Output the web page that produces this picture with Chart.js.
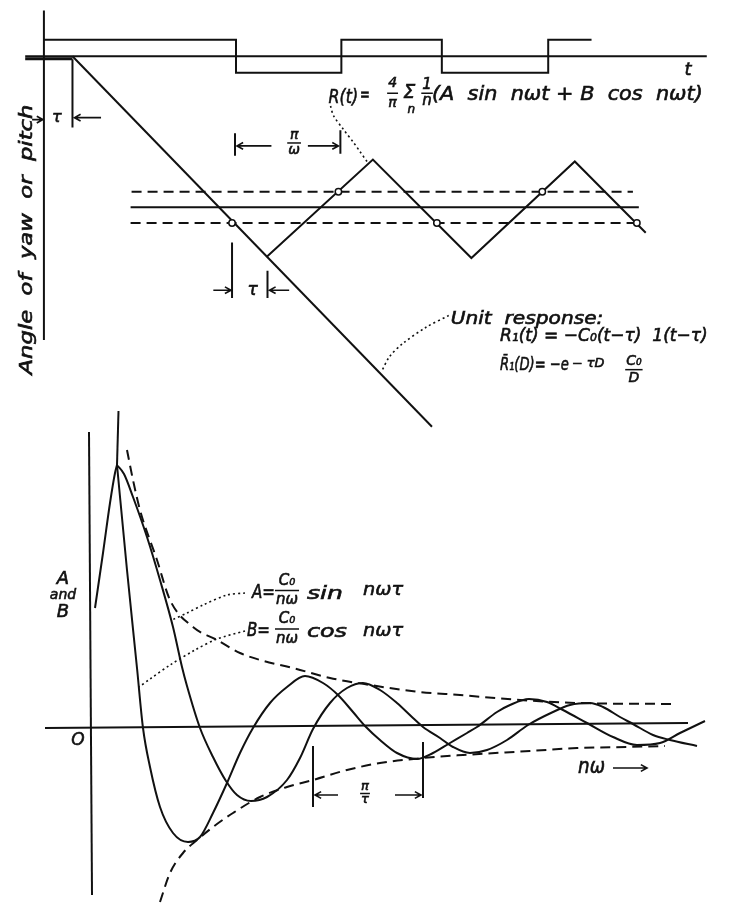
<!DOCTYPE html>
<html>
<head>
<meta charset="utf-8">
<script src="https://cdn.jsdelivr.net/npm/chart.js@4.4.1/dist/chart.umd.min.js"></script>
<style>
  html, body { margin: 0; padding: 0; background: #fff; }
  #wrap { position: relative; width: 731px; height: 903px; }
  canvas { position: absolute; left: 0; }
  #top { top: 0; }
  #bottom { top: 395px; }
</style>
</head>
<body>
<div id="wrap">
  <canvas id="top"></canvas>
  <canvas id="bottom"></canvas>
</div>
<script>
// ---- upper figure: time t vs angle (units) ----
const tAxis = [[-1.9, 0], [67.3, 0]];
const angleAxis = [[0, 4.7], [0, -29.1]];
const inputSquare = [[0, 1.7], [19.5, 1.7], [19.5, -1.7], [30.2, -1.7], [30.2, 1.7], [40.4, 1.7], [40.4, -1.7], [51.2, -1.7], [51.2, 1.7], [55.6, 1.7]];
const deadTime = [[-1.9, -0.25], [2.9, -0.25]];
const unitRamp = [[2.9, 0], [39.4, -38.0]];
const bandUpper = [[8.9, -13.9], [59.8, -13.9]];
const bandMid = [[8.8, -15.5], [60.4, -15.5]];
const bandLower = [[8.8, -17.1], [60.2, -17.1]];
const response = [[22.6, -20.6], [33.4, -10.6], [43.4, -20.7], [53.9, -10.8], [61.1, -18.1]];
const switchPts = [[19.1, -17.1], [29.9, -13.9], [39.9, -17.1], [50.6, -13.9], [60.2, -17.1]];
const tauTick = [[2.9, -0.3], [2.9, -7.3]];
const halfPeriodL = [[19.4, -7.9], [19.4, -10.2]];
const halfPeriodR = [[30.1, -7.6], [30.1, -10.0]];
const tau2L = [[19.1, -19.1], [19.1, -24.8]];
const tau2R = [[22.7, -22.0], [22.7, -24.8]];
const leaderR = [[29.1, -5.1], [29.4, -6.1], [30.4, -7.5], [31.4, -8.8], [32.1, -9.8], [32.8, -10.8]];
const leaderUnit = [[41.1, -26.6], [38.8, -27.8], [36.4, -29.5], [35.1, -30.8], [34.3, -32.3]];

// ---- lower figure: n*omega vs A and B ----
const nwAxis = [[-4.5, 0], [59.8, 0.5]];
const abAxis = [[-0.1, 29.6], [0.2, -16.7]];
const curveBTop = [[2.85, 31.7], [2.7, 26.3]];
const curveB = [[2.7, 26.3], [3.7, 15.8], [4.7, 6.0], [5.3, 0], [6.0, -3.9], [7.0, -7.9], [8.3, -10.5], [9.8, -11.4], [11.0, -10.9], [12.3, -8.5], [13.7, -5.5], [15.0, -2.5], [16.3, 0], [18.0, 2.5], [19.7, 4.1], [21.5, 5.2], [23.3, 4.5], [24.8, 3.3], [26.3, 1.6], [27.6, 0.1], [29.0, -1.2], [30.7, -2.5], [32.7, -3.1], [34.3, -2.5], [36.0, -1.5], [37.7, -0.5], [38.7, 0.1], [40.7, 1.6], [42.0, 2.3], [43.9, 2.9], [45.7, 2.6], [47.3, 1.8], [49.7, 0.5], [52.3, -0.9], [54.7, -1.7], [57.0, -1.5], [59.0, -0.5], [61.5, 0.7]];
const curveARise = [[0.5, 12.0], [1.3, 17.5], [2.0, 22.5], [2.5, 25.5], [2.7, 26.3]];
const curveA = [[2.7, 26.3], [3.4, 25.4], [4.3, 23.1], [5.7, 19.1], [7.0, 14.8], [8.3, 10.1], [9.2, 6.1], [9.7, 4.2], [11.0, 0], [12.3, -2.9], [13.6, -5.3], [14.7, -6.7], [16.1, -7.3], [17.7, -6.9], [19.7, -5.2], [21.0, -3.0], [22.3, -0.1], [24.0, 2.5], [25.7, 4.0], [27.3, 4.5], [29.0, 3.8], [30.7, 2.5], [32.3, 1.0], [33.3, 0.1], [35.0, -1.0], [36.3, -1.9], [38.0, -2.5], [39.7, -2.2], [41.7, -1.2], [43.8, 0.3], [46.3, 1.6], [48.0, 2.3], [50.0, 2.5], [51.3, 2.1], [53.0, 1.1], [54.3, 0.4], [56.3, -0.7], [58.0, -1.2], [60.7, -1.8]];
const envUpper = [[3.7, 27.8], [4.3, 24.8], [5.0, 21.8], [6.7, 16.8], [8.0, 12.8], [10.3, 10.1], [12.7, 8.8], [15.0, 7.5], [17.0, 6.8], [20.3, 6.0], [24.0, 5.0], [28.0, 4.3], [33.0, 3.6], [37.0, 3.3], [43.0, 2.8], [48.7, 2.5], [58.7, 2.4]];
const envLower = [[7.0, -17.4], [8.0, -14.5], [9.3, -12.5], [10.7, -11.2], [12.3, -9.9], [14.3, -8.5], [17.0, -6.9], [19.7, -5.9], [22.3, -5.2], [25.7, -4.2], [29.0, -3.5], [33.3, -3.0], [37.3, -2.7], [44.0, -2.3], [48.7, -2.0], [53.7, -1.9], [57.5, -1.8]];
const piTauL = [[22.3, -1.8], [22.3, -7.9]];
const piTauR = [[33.3, -1.4], [33.3, -7.0]];
const leaderA = [[15.5, 13.5], [13.7, 13.3], [11.3, 12.3], [9.7, 11.5], [8.2, 10.8]];
const leaderB = [[15.5, 9.7], [12.7, 8.9], [10.5, 7.8], [8.0, 6.3], [6.0, 4.9], [4.9, 4.1]];

const INK = '#111';
const FONT = '"DejaVu Sans"';

const xy = pts => pts.map(([x, y]) => ({ x, y }));
const ln = (pts, extra = {}) => Object.assign({
    data: xy(pts), showLine: true, borderColor: INK, borderWidth: 2,
    pointRadius: 0, tension: 0, fill: false
}, extra);
const DASH = { borderDash: [10, 6] };
const DOT = { borderDash: [2, 3], borderWidth: 1.6, tension: 0.3 };
const SMOOTH = { cubicInterpolationMode: 'monotone' };

// texts, fractions and arrows are placed with the chart's own scales
const notesPlugin = {
    id: 'notes',
    afterDatasetsDraw(chart, args, opts) {
        const { ctx } = chart;
        const px = v => chart.scales.x.getPixelForValue(v);
        const py = v => chart.scales.y.getPixelForValue(v);
        ctx.save();
        ctx.fillStyle = INK;
        ctx.strokeStyle = INK;
        ctx.textBaseline = 'middle';
        const ink = (s, x, y) => {
            ctx.lineWidth = 0.6;
            ctx.fillText(s, x, y);
            ctx.strokeText(s, x, y);
        };

        (opts.texts || []).forEach(n => {
            ctx.font = `italic ${n.size}px ${FONT}`;
            const m = ctx.measureText(n.s).width;
            ctx.save();
            ctx.translate(px(n.x), py(n.y));
            if (n.rot) ctx.rotate(n.rot * Math.PI / 180);
            if (n.w) {
                ctx.scale(Math.abs(px(n.w) - px(0)) / m, 1);
                ctx.textAlign = n.rot ? 'center' : 'left';
            } else {
                ctx.textAlign = 'center';
            }
            ink(n.s, 0, 0);
            ctx.restore();
        });

        (opts.fracs || []).forEach(f => {
            ctx.font = `italic ${f.size}px ${FONT}`;
            ctx.textAlign = 'center';
            const cx = px(f.x);
            ink(f.num, cx, py(f.ny));
            ink(f.den, cx, py(f.dy));
            const w = Math.max(ctx.measureText(f.num).width, ctx.measureText(f.den).width) + 2;
            const by = (py(f.ny) + py(f.dy)) / 2;
            ctx.lineWidth = 1.5;
            ctx.beginPath();
            ctx.moveTo(cx - w / 2, by);
            ctx.lineTo(cx + w / 2, by);
            ctx.stroke();
        });

        (opts.arrows || []).forEach(([x1, y1, x2, y2]) => {
            const a = px(x1), b = py(y1), c = px(x2), d = py(y2);
            const ang = Math.atan2(d - b, c - a);
            ctx.lineWidth = 1.6;
            ctx.beginPath();
            ctx.moveTo(a, b);
            ctx.lineTo(c, d);
            ctx.moveTo(c - 7 * Math.cos(ang - 0.5), d - 7 * Math.sin(ang - 0.5));
            ctx.lineTo(c, d);
            ctx.lineTo(c - 7 * Math.cos(ang + 0.5), d - 7 * Math.sin(ang + 0.5));
            ctx.stroke();
        });
        ctx.restore();
    }
};

function makeChart(id, w, h, xr, yr, datasets, notes) {
    const cv = document.getElementById(id);
    cv.width = w;
    cv.height = h;
    return new Chart(cv, {
        type: 'scatter',
        data: { datasets },
        options: {
            responsive: false,
            animation: false,
            events: [],
            layout: { padding: 0 },
            plugins: { legend: { display: false }, tooltip: { enabled: false }, notes },
            scales: {
                x: { type: 'linear', display: false, min: xr[0], max: xr[1] },
                y: { type: 'linear', display: false, min: yr[0], max: yr[1] }
            }
        },
        plugins: [notesPlugin]
    });
}

makeChart('top', 731, 440, [-3.9, 69.2], [-38.8, 5.2], [
    { data: xy(switchPts), showLine: false, pointRadius: 3.2, pointBorderWidth: 1.5, pointBackgroundColor: '#fff', pointBorderColor: INK },
    ln(tAxis), ln(angleAxis), ln(inputSquare), ln(deadTime, { borderWidth: 3 }), ln(unitRamp),
    ln(bandUpper, DASH), ln(bandMid), ln(bandLower, DASH), ln(response),
    ln(tauTick), ln(halfPeriodL), ln(halfPeriodR), ln(tau2L), ln(tau2R),
    ln(leaderR, DOT), ln(leaderUnit, DOT)
], {
    texts: [
        { s: 'R(t)', x: 28.9, y: -4.3, w: 3.0, size: 20 },
        { s: '=', x: 32.1, y: -4.0, w: 1.0, size: 18 },
        { s: 'Σ', x: 37.1, y: -3.8, size: 19 },
        { s: 'n', x: 37.3, y: -5.5, size: 12 },
        { s: '(A  sin  nωt + B  cos  nωt)', x: 39.4, y: -4.0, w: 27.5, size: 20 },
        { s: 't', x: 65.4, y: -1.5, size: 18 },
        { s: 'τ', x: 1.3, y: -6.3, size: 16 },
        { s: 'τ', x: 21.2, y: -24.0, size: 17 },
        { s: 'Unit  response:', x: 41.3, y: -27.0, w: 15.5, size: 17 },
        { s: 'R₁(t) = −C₀(t−τ)  1(t−τ)', x: 46.3, y: -28.7, w: 21.1, size: 18 },
        { s: 'R̄₁(D)= −e', x: 46.3, y: -31.7, w: 7.0, size: 18 },
        { s: '− τD', x: 53.6, y: -31.6, w: 3.3, size: 12 },
        { s: 'Angle  of  yaw  or  pitch', x: -1.7, y: -18.8, w: 27.4, size: 17, rot: -90 }
    ],
    fracs: [
        { num: '4', den: 'π', x: 35.4, ny: -2.8, dy: -4.8, size: 14 },
        { num: '1', den: 'n', x: 38.9, ny: -3.0, dy: -4.6, size: 15 },
        { num: 'π', den: 'ω', x: 25.4, ny: -8.1, dy: -9.7, size: 14 },
        { num: 'C₀', den: 'D', x: 59.9, ny: -31.3, dy: -33.0, size: 14 }
    ],
    arrows: [
        [-1.2, -6.5, -0.1, -6.5], [5.8, -6.3, 3.1, -6.3],
        [23.1, -9.2, 19.6, -9.2], [26.8, -9.2, 29.9, -9.2],
        [17.2, -24.0, 19.0, -24.0], [24.9, -24.0, 22.9, -24.0]
    ]
});

makeChart('bottom', 731, 508, [-9.0, 64.1], [-17.5, 33.3], [
    ln(nwAxis), ln(abAxis),
    ln(curveBTop), ln(curveB, SMOOTH), ln(curveARise, SMOOTH), ln(curveA, SMOOTH),
    ln(envUpper, Object.assign({}, SMOOTH, DASH)), ln(envLower, Object.assign({}, SMOOTH, DASH)),
    ln(piTauL), ln(piTauR),
    ln(leaderA, DOT), ln(leaderB, DOT)
], {
    texts: [
        { s: 'A', x: -2.7, y: 14.9, size: 18 },
        { s: 'and', x: -2.7, y: 13.3, size: 14 },
        { s: 'B', x: -2.7, y: 11.6, size: 18 },
        { s: 'O', x: -1.2, y: -1.3, size: 17 },
        { s: 'A=', x: 16.2, y: 13.5, w: 2.3, size: 19 },
        { s: 'sin', x: 21.7, y: 13.4, w: 3.6, size: 18 },
        { s: 'nωτ', x: 27.3, y: 13.8, w: 4.0, size: 18 },
        { s: 'B=', x: 15.7, y: 9.7, w: 2.3, size: 19 },
        { s: 'cos', x: 21.7, y: 9.6, w: 4.0, size: 18 },
        { s: 'nωτ', x: 27.3, y: 9.7, w: 4.0, size: 18 },
        { s: 'nω', x: 48.8, y: -4.0, w: 2.7, size: 21 }
    ],
    fracs: [
        { num: 'C₀', den: 'nω', x: 19.7, ny: 14.7, dy: 12.8, size: 15 },
        { num: 'C₀', den: 'nω', x: 19.7, ny: 10.9, dy: 8.9, size: 15 },
        { num: 'π', den: 'τ', x: 27.5, ny: -5.9, dy: -7.2, size: 13 }
    ],
    arrows: [
        [52.3, -4.0, 55.7, -4.0], [24.8, -6.7, 22.5, -6.7], [30.5, -6.7, 33.1, -6.7]
    ]
});
</script>
</body>
</html>
